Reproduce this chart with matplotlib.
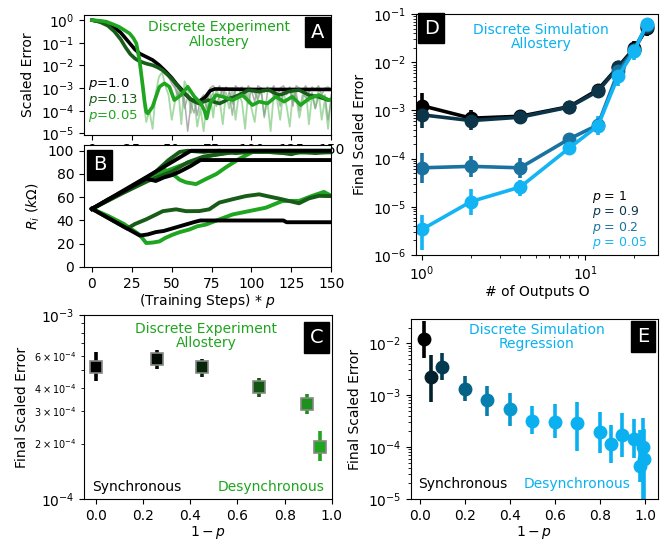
import matplotlib
matplotlib.use('Agg')
import matplotlib.pyplot as plt
import numpy as np

GREEN = '#1fa51f'
DKGREEN = '#175c17'
BLUE = '#0ab0f0'

# ---- panel A: scaled error vs steps (log10 values) ----
a_black_x = [0, 5, 10, 15, 18, 21, 24, 27, 30, 34, 38, 42, 46, 50, 53, 56, 59, 62, 65, 68, 71, 74, 77, 100, 125, 150]
a_black_y = [0, -0.07, -0.2, -0.38, -0.55, -0.8, -1.05, -1.3, -1.48, -1.62, -1.76, -1.98, -2.25, -2.55, -2.82,
             -3.05, -3.3, -3.5, -3.6, -3.55, -3.4, -3.12, -3.04, -3.06, -3.06, -3.06]
a_dkgreen_x = [0, 5, 10, 14, 18, 21, 24, 27, 30, 34, 38, 41, 44, 47, 50, 53, 56, 59, 62, 65, 67, 70, 73, 76, 80,
               83, 86, 89, 92, 95, 98, 101, 105, 108, 111, 114, 117, 120, 123, 126, 130, 133, 136, 139, 142, 145,
               148, 150]
a_dkgreen_y = [0, -0.08, -0.25, -0.5, -0.85, -1.2, -1.5, -1.7, -1.82, -1.92, -1.99, -2.08, -2.2, -2.38, -2.6,
               -2.85, -3.1, -3.3, -3.5, -3.62, -3.68, -3.6, -3.53, -3.6, -3.68, -3.58, -3.46, -3.4, -3.31, -3.2,
               -3.09, -3.12, -3.16, -3.1, -3.09, -3.2, -3.31, -3.25, -3.16, -3.12, -3.09, -3.2, -3.31, -3.35,
               -3.38, -3.45, -3.53, -3.5]
a_green_x = [0, 5, 9, 13, 17, 20, 23.6, 26, 27.8, 29.8, 31.9, 33, 34, 35, 38, 40, 42.3, 45.4, 48.5, 51.6, 55.8,
             60, 64.2, 68.3, 70.5, 71.9, 73, 74.6, 77.8, 81.9, 88.2, 94.4, 100.6, 104.8, 110, 115.2, 120.4,
             125.6, 130.8, 136, 142.3, 148.5, 150]
a_green_y = [0, -0.03, -0.07, -0.18, -0.3, -0.43, -0.59, -0.8, -1.03, -1.76, -2.94, -3.6, -4.05, -4.12, -3.82,
             -3.4, -2.94, -2.79, -2.94, -3.53, -3.31, -2.94, -3.38, -3.68, -4.0, -4.34, -4.0, -3.6, -3.31,
             -3.38, -3.53, -3.31, -3.75, -3.6, -3.68, -3.38, -3.6, -3.38, -3.75, -3.46, -3.31, -3.53, -3.5]

# raw (unsmoothed) traces, log10 values
a_raw_gray_x = list(range(40, 152, 2))
a_raw_gray_y = [-1.9, -2.1, -2.2, -2.4, -2.5, -2.8, -3.0, -3.4, -3.0, -3.5, -4.9, -3.7, -3.4, -4.2, -3.5, -3.3,
                -3.6, -3.0, -2.9, -3.1, -2.9, -3.4, -2.95, -3.1, -3.7, -2.9, -3.05, -2.95, -3.3, -2.9, -3.1,
                -3.6, -2.9, -3.0, -3.2, -2.95, -3.1, -2.9, -3.4, -3.0, -2.9, -3.15, -2.95, -3.8, -2.9, -3.0,
                -3.1, -2.9, -3.2, -2.95, -3.1, -2.9, -3.3, -3.0, -2.95, -3.1]
a_raw_green_x = list(range(28, 152, 2))
a_raw_green_y = [-1.3, -2.2, -3.4, -4.5, -4.0, -4.8, -3.2, -2.5, -2.3, -2.9, -3.3, -4.4, -3.6, -3.0, -4.6, -2.7,
                 -3.0, -4.1, -3.4, -4.7, -3.9, -4.9, -3.6, -3.2, -4.3, -3.0, -3.5, -4.6, -3.2, -3.9, -3.0,
                 -4.4, -3.3, -3.6, -4.8, -3.1, -3.9, -4.5, -3.3, -3.0, -4.2, -3.6, -4.9, -3.2, -3.5, -4.4,
                 -3.1, -3.8, -4.7, -3.2, -3.4, -4.3, -3.6, -3.0, -4.6, -3.3, -3.9, -3.1, -4.4, -3.5, -4.8, -3.3]
a_raw_dk_x = list(range(50, 152, 2))
a_raw_dk_y = [-2.6, -2.9, -3.3, -3.0, -3.9, -3.4, -3.7, -4.1, -3.5, -3.8, -3.4, -3.9, -3.5, -3.2, -3.8, -3.3,
              -3.1, -3.6, -3.2, -4.2, -3.1, -3.0, -3.4, -3.1, -3.7, -3.0, -3.2, -3.5, -3.1, -4.3, -3.2, -3.0,
              -3.4, -3.2, -3.8, -3.1, -3.3, -3.0, -3.6, -3.2, -4.0, -3.3, -3.4, -3.6, -3.2, -3.9, -3.4, -3.5,
              -3.3, -4.4, -3.5]

# ---- panel B: resistances (kOhm) ----
b_black = [
    ([0, 20, 40, 62, 150], [50, 66, 82, 100, 100]),
    ([0, 34, 40, 45, 50, 55, 62, 68, 150], [50, 76, 74, 77, 79, 82, 87, 92, 92]),
    ([0, 30, 35, 40, 45, 50, 55, 60, 65, 68, 120, 122, 150],
     [50, 27, 28, 30, 31, 33, 35, 37, 39, 40, 40, 38.5, 38.5]),
]
b_dkgreen = [
    ([0, 10, 20, 30, 40, 48, 55, 60, 70, 80, 90, 100, 110, 120, 125, 130, 140, 150],
     [50, 58, 65, 73, 82, 92, 99, 100, 99, 100, 98, 99, 99, 98, 97, 99, 98, 99]),
    ([0, 20, 35, 50, 60, 70, 80, 90, 100, 150], [50, 64, 74, 82, 90, 95, 97, 99, 100, 100]),
    ([0, 22, 27, 34, 40, 44.4, 52.7, 59, 67.3, 73.5, 79.8, 88.2, 96.5, 104.8, 111, 117.3, 123.5, 129.8, 136,
      142.3, 148.5, 150],
     [50, 33, 37, 41, 45, 48, 49.6, 48, 48.1, 49.6, 55.4, 58.3, 61, 62.5, 60.6, 58.8, 56.8, 54.8, 59, 61.2,
      61, 61]),
]
b_green = [
    ([0, 10, 20, 29.8, 34, 38, 42.3, 46, 50.6, 55, 61, 66, 71.5, 79.8, 88.2, 98.6, 109, 119.4, 129.8, 138.1,
      145.4, 150],
     [50, 44, 37, 27.8, 20.6, 21, 22, 25, 27.8, 30, 32.2, 35, 36.5, 40.9, 45.2, 48.1, 51, 56.8, 56.8, 61.2,
      64.6, 61.2]),
    ([0, 15, 30, 45, 50.6, 55, 59, 65.2, 71.5, 78, 84, 92.3, 100.6, 110, 125, 140, 150],
     [50, 61, 73, 84, 80, 75, 72.8, 71.3, 75.7, 80, 85.8, 93, 98.9, 99, 98, 99, 98.5]),
    ([0, 20, 40, 55, 65, 75, 85, 95, 150], [50, 65, 79, 87, 92, 96, 98.5, 99, 99]),
]

# ---- panel C ----
c_x = [0.0, 0.26, 0.45, 0.69, 0.895, 0.95]
c_y = [5.2e-4, 5.8e-4, 5.2e-4, 4.05e-4, 3.3e-4, 1.92e-4]
c_lo = [4.35e-4, 5.1e-4, 4.6e-4, 3.6e-4, 2.9e-4, 1.6e-4]
c_hi = [6.3e-4, 6.45e-4, 5.8e-4, 4.55e-4, 3.7e-4, 2.35e-4]

# ---- panel D (log10 values) ----
d_outputs = [1, 2, 4, 8, 12, 16, 20, 24]
d_labels = ['1', '0.9', '0.2', '0.05']
d_colors = ['#000000', '#0d3549', '#1a72a0', '#12b4f4']
d_y = [
    [-2.90, -3.16, -3.12, -2.92, -2.57, -2.09, -1.71, -1.29],
    [-3.09, -3.21, -3.14, -2.93, -2.60, -2.10, -1.74, -1.26],
    [-4.19, -4.16, -4.19, -3.59, -3.30, -2.19, -1.74, -1.22],
    [-5.47, -4.89, -4.59, -3.78, -3.32, -2.28, -1.77, -1.20],
]
d_lo = [
    [-3.05, -3.30, -3.22, -3.00, -2.70, -2.20, -1.85, -1.45],
    [-3.37, -3.40, -3.28, -3.02, -2.72, -2.22, -1.90, -1.40],
    [-4.50, -4.38, -4.40, -3.68, -3.42, -2.35, -1.92, -1.35],
    [-5.89, -5.16, -4.77, -3.90, -3.50, -2.50, -1.95, -1.35],
]
d_hi = [
    [-2.64, -3.00, -3.00, -2.85, -2.45, -1.98, -1.55, -1.18],
    [-2.78, -3.02, -3.02, -2.86, -2.48, -1.98, -1.58, -1.15],
    [-3.88, -3.95, -3.98, -3.50, -3.16, -2.05, -1.58, -1.12],
    [-5.16, -4.62, -4.44, -3.66, -3.12, -2.08, -1.60, -1.10],
]

# ---- panel E (log10 values) ----
e_x = [0.02, 0.05, 0.1, 0.2, 0.3, 0.4, 0.5, 0.6, 0.7, 0.8, 0.85, 0.9, 0.95, 0.98, 0.99, 0.995]
e_y = [-1.92, -2.655, -2.45, -2.89, -3.10, -3.27, -3.49, -3.51, -3.54, -3.72, -3.94, -3.77, -3.85, -4.36,
       -3.99, -4.24]
e_lo = [-2.29, -3.14, -2.71, -3.12, -3.41, -3.59, -3.75, -3.83, -4.07, -4.12, -4.30, -4.20, -4.22, -4.67,
        -5.1, -5.1]
e_hi = [-1.58, -2.22, -2.18, -2.64, -2.82, -2.96, -3.21, -3.17, -3.14, -3.33, -3.57, -3.35, -3.46, -3.67,
        -3.45, -3.65]

FS = 10


def panel_label(ax, letter, x, y):
    ax.text(x, y, letter, transform=ax.transAxes, color='white', fontsize=14, ha='center', va='center',
            bbox=dict(boxstyle='square,pad=0.3', fc='black', ec='black'), zorder=10)


def blend(rgb, f):
    return tuple(c * f for c in rgb)


# panel A
def plot_a(fig):
    ax = fig.add_axes([0.1254, 0.75, 0.369, 0.222])
    ax.plot(a_raw_green_x, 10 ** np.array(a_raw_green_y), color='#8fd18f', lw=1.3, alpha=0.8)
    ax.plot(a_raw_dk_x, 10 ** np.array(a_raw_dk_y), color='#7f9f7f', lw=1.1, alpha=0.7)
    ax.plot(a_raw_gray_x, 10 ** np.array(a_raw_gray_y), color='#999999', lw=1.1, alpha=0.8)
    ax.plot(a_black_x, 10 ** np.array(a_black_y), color='black', lw=2.6)
    ax.plot(a_dkgreen_x, 10 ** np.array(a_dkgreen_y), color=DKGREEN, lw=2.6)
    ax.plot(a_green_x, 10 ** np.array(a_green_y), color=GREEN, lw=2.6)
    ax.set_yscale('log')
    ax.set_ylim(8.5e-6, 1.66)
    ax.set_xlim(-5, 150)
    ax.set_xticks([0, 25, 50, 75, 100, 125, 150])
    ax.set_yticks([1e-5, 1e-4, 1e-3, 1e-2, 1e-1, 1e0])
    ax.tick_params(labelsize=FS)
    # x labels sit mostly under panel B, as in the original
    ax.tick_params(axis='x', pad=2.5)
    ax.set_ylabel('Scaled Error', fontsize=FS)
    ax.text(0.547, 0.8375, 'Discrete Experiment\nAllostery', transform=ax.transAxes, color=GREEN,
            fontsize=FS, ha='center', va='center', linespacing=1.05)
    for yy, lab, col in [(0.425, '$p$=1.0', 'black'), (0.29, '$p$=0.13', DKGREEN),
                         (0.155, '$p$=0.05', GREEN)]:
        ax.text(0.016, yy, lab, transform=ax.transAxes, color=col, fontsize=9.5, ha='left', va='center')
    panel_label(ax, 'A', 0.943, 0.858)


# panel B
def plot_b(fig):
    ax = fig.add_axes([0.1254, 0.5056, 0.369, 0.226])
    ax.set_facecolor('white')
    for xs, ys in b_green:
        ax.plot(xs, ys, color=GREEN, lw=2.8)
    for xs, ys in b_dkgreen:
        ax.plot(xs, ys, color=DKGREEN, lw=2.8)
    for xs, ys in b_black:
        ax.plot(xs, ys, color='black', lw=2.8)
    ax.set_xlim(-5, 150)
    ax.set_ylim(0, 105)
    ax.set_xticks([0, 25, 50, 75, 100, 125, 150])
    ax.set_yticks([0, 20, 40, 60, 80, 100])
    ax.tick_params(labelsize=FS)
    ax.set_ylabel(r'$R_i\ (k\Omega)$', fontsize=FS)
    ax.set_xlabel('(Training Steps) * $p$', fontsize=FS, labelpad=1)
    panel_label(ax, 'B', 0.063, 0.836)


# panel C
def plot_c(fig):
    ax = fig.add_axes([0.1254, 0.076, 0.37, 0.3407])
    green = (0x1f / 255, 0xa5 / 255, 0x1f / 255)
    for x, y, lo, hi in zip(c_x, c_y, c_lo, c_hi):
        col = blend(green, (x / 0.95) ** 2)
        ax.errorbar([x], [y], yerr=[[y - lo], [hi - y]], fmt='s', color=col, ms=8, mec='#888888',
                    mew=1.2, elinewidth=2.6, capsize=0)
    ax.set_yscale('log')
    ax.set_ylim(1e-4, 1e-3)
    ax.set_xlim(-0.05, 1.0)
    ax.set_xticks([0.0, 0.2, 0.4, 0.6, 0.8, 1.0])
    ax.tick_params(labelsize=FS)
    ax.tick_params(which='minor', labelsize=7)
    ax.set_ylabel('Final Scaled Error', fontsize=FS)
    ax.set_xlabel('$1-p$', fontsize=FS, labelpad=1)
    ax.text(0.492, 0.886, 'Discrete Experiment\nAllostery', transform=ax.transAxes, color=GREEN,
            fontsize=FS, ha='center', va='center', linespacing=1.05)
    ax.text(0.032, 0.065, 'Synchronous', transform=ax.transAxes, color='black', fontsize=FS,
            ha='left', va='center')
    ax.text(0.972, 0.065, 'Desynchronous', transform=ax.transAxes, color=GREEN, fontsize=FS,
            ha='right', va='center')
    panel_label(ax, 'C', 0.9375, 0.878)


# panel D
def plot_d(fig):
    ax = fig.add_axes([0.621, 0.5278, 0.361, 0.446])
    for ys, lo, hi, col in zip(d_y, d_lo, d_hi, d_colors):
        y = 10 ** np.array(ys)
        err = [y - 10 ** np.array(lo), 10 ** np.array(hi) - y]
        ax.errorbar(d_outputs, y, yerr=err, fmt='-o', color=col, ms=9, lw=2.6, elinewidth=2.6, capsize=0)
    ax.set_xscale('log')
    ax.set_yscale('log')
    ax.set_xlim(0.92, 28)
    ax.set_ylim(1e-6, 1e-1)
    ax.tick_params(labelsize=FS)
    ax.set_ylabel('Final Scaled Error', fontsize=FS)
    ax.set_xlabel('# of Outputs O', fontsize=FS, labelpad=1)
    ax.text(0.517, 0.905, 'Discrete Simulation\nAllostery', transform=ax.transAxes, color=BLUE,
            fontsize=FS, ha='center', va='center', linespacing=1.05)
    for yy, lab, col in zip([0.242, 0.178, 0.114, 0.05], d_labels, d_colors):
        ax.text(0.727, yy, '$p$ = ' + lab, transform=ax.transAxes, color=col, fontsize=9,
                ha='left', va='center')
    panel_label(ax, 'D', 0.062, 0.942)


# panel E
def plot_e(fig):
    ax = fig.add_axes([0.6134, 0.076, 0.3687, 0.333])
    blue = (0x0a / 255, 0xb0 / 255, 0xf0 / 255)
    for x, y, lo, hi in zip(e_x, e_y, e_lo, e_hi):
        f = min(max((x - 0.02) / 0.48, 0.0), 1.0) ** 0.6
        col = blend(blue, f)
        ax.errorbar([x], [10 ** y], yerr=[[10 ** y - 10 ** lo], [10 ** hi - 10 ** y]], fmt='o', color=col,
                    ms=9, elinewidth=2.6, capsize=0)
    ax.set_yscale('log')
    ax.set_ylim(1e-5, 2.9e-2)
    ax.set_xlim(-0.04, 1.058)
    ax.set_xticks([0.0, 0.2, 0.4, 0.6, 0.8, 1.0])
    ax.tick_params(labelsize=FS)
    ax.set_ylabel('Final Scaled Error', fontsize=FS)
    ax.set_xlabel('$1-p$', fontsize=FS, labelpad=1)
    ax.text(0.51, 0.9, 'Discrete Simulation\nRegression', transform=ax.transAxes, color=BLUE,
            fontsize=FS, ha='center', va='center', linespacing=1.05)
    ax.text(0.028, 0.083, 'Synchronous', transform=ax.transAxes, color='black', fontsize=FS,
            ha='left', va='center')
    ax.text(0.4575, 0.083, 'Desynchronous', transform=ax.transAxes, color=BLUE, fontsize=FS,
            ha='left', va='center')
    panel_label(ax, 'E', 0.941, 0.903)


def main():
    fig = plt.figure(figsize=(6.7, 5.4), dpi=100)
    plot_a(fig)
    plot_b(fig)
    plot_c(fig)
    plot_d(fig)
    plot_e(fig)
    fig.savefig('out.png', dpi=100)


if __name__ == "__main__":
    main()
